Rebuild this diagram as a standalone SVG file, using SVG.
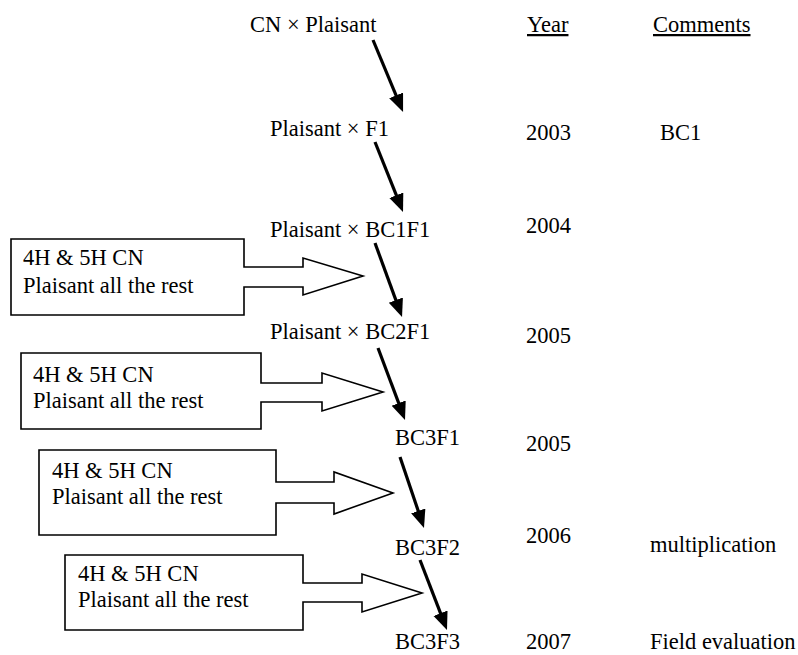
<svg xmlns="http://www.w3.org/2000/svg" width="798" height="655" viewBox="0 0 798 655">
<style>
text{font-family:'Liberation Serif','Times New Roman',serif;font-size:22.5px;fill:#000}
.u{text-decoration:underline}
.box{fill:#fff;stroke:#000;stroke-width:1.6}
.arr{stroke:#000;stroke-width:3.2;fill:none;marker-end:url(#ah)}
</style>
<defs>
<marker id="ah" markerUnits="userSpaceOnUse" markerWidth="20" markerHeight="16" refX="8" refY="7.5" orient="auto" viewBox="0 0 20 16">
<path d="M0,0 L18,7.5 L0,15 Z" fill="#000"/>
</marker>
</defs>
<rect width="798" height="655" fill="#fff"/>
<g id="headers">
<text class="u" x="527" y="32">Year</text>
<text class="u" x="653" y="32">Comments</text>
</g>
<g id="n1"><text x="250" y="32">CN × Plaisant</text></g>
<g id="n2"><text x="270" y="136">Plaisant × F1</text></g>
<g id="n3"><text x="270" y="237">Plaisant × BC1F1</text></g>
<g id="n4"><text x="270" y="339">Plaisant × BC2F1</text></g>
<g id="n5"><text x="395" y="445">BC3F1</text></g>
<g id="n6"><text x="395" y="555">BC3F2</text></g>
<g id="n7"><text x="395" y="649">BC3F3</text></g>
<g id="b1">
<path class="box" d="M11,239 H244 V267 H303 V258 L363,276 L303,295 V287 H244 V315 H11 Z"/>
<text x="23" y="265">4H &amp; 5H CN</text>
<text x="23" y="293">Plaisant all the rest</text>
</g>
<g id="b2">
<path class="box" d="M21,353 H261 V383 H322 V373 L383,392 L322,411 V402 H261 V429 H21 Z"/>
<text x="33" y="382">4H &amp; 5H CN</text>
<text x="33" y="408">Plaisant all the rest</text>
</g>
<g id="b3">
<path class="box" d="M39,450 H276 V482 H334 V472 L393,493 L334,514 V503 H276 V535 H39 Z"/>
<text x="52" y="478">4H &amp; 5H CN</text>
<text x="52" y="504">Plaisant all the rest</text>
</g>
<g id="b4">
<path class="box" d="M65,555 H303 V583 H362 V574 L422,593 L362,612 V602 H303 V630 H65 Z"/>
<text x="78" y="581">4H &amp; 5H CN</text>
<text x="78" y="607">Plaisant all the rest</text>
</g>
<g id="years">
<text x="526" y="140">2003</text>
<text x="526" y="233">2004</text>
<text x="526" y="343">2005</text>
<text x="526" y="451">2005</text>
<text x="526" y="543">2006</text>
<text x="526" y="649">2007</text>
</g>
<g id="comments">
<text x="660" y="140">BC1</text>
<text x="650" y="552">multiplication</text>
<text x="650" y="649">Field evaluation</text>
</g>
<g id="connectors">
<line class="arr" x1="373" y1="40" x2="399.2" y2="102.8"/>
<line class="arr" x1="375" y1="142" x2="399.3" y2="202.7"/>
<line class="arr" x1="375" y1="243" x2="398.6" y2="307.6"/>
<line class="arr" x1="378" y1="348" x2="401.5" y2="410.6"/>
<line class="arr" x1="400" y1="457" x2="420.8" y2="518.5"/>
<line class="arr" x1="420" y1="560" x2="443.4" y2="620.7"/>
</g>
</svg>
